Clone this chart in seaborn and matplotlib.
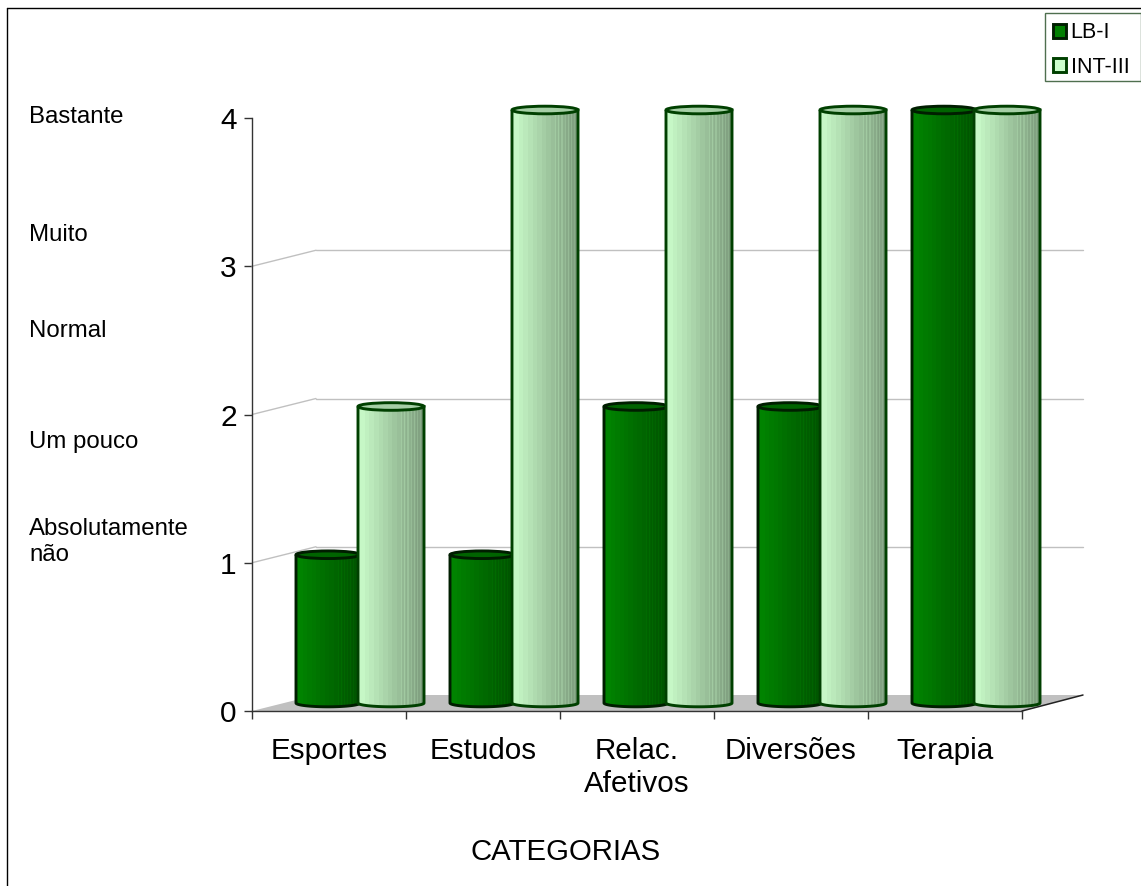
import numpy as np
import pandas as pd
import matplotlib
matplotlib.use("Agg")
import matplotlib.pyplot as plt
import seaborn as sns
from matplotlib import transforms
from matplotlib.lines import Line2D
from matplotlib.patches import Ellipse, Patch, PathPatch, Polygon, Rectangle
from matplotlib.path import Path

categories = ["Esportes", "Estudos", "Relac.\nAfetivos", "Diversões", "Terapia"]
lb_values = [1, 1, 2, 2, 4]
int_values = [2, 4, 4, 4, 4]
series_names = ["LB-I", "INT-III"]
y_ticks = [0, 1, 2, 3, 4]
scale_labels = ["Bastante", "Muito", "Normal", "Um pouco", "Absolutamente\nnão"]
scale_label_rows = [116, 234, 330, 441, 541]

W, H = 1141, 886
DPI = 100

sns.set_theme(style="white")
plt.rcParams["font.family"] = ["Liberation Sans", "DejaVu Sans"]
plt.rcParams["text.color"] = "black"

df = pd.DataFrame({
    "categoria": categories * 2,
    "serie": [series_names[0]] * 5 + [series_names[1]] * 5,
    "valor": lb_values + int_values,
})

fig = plt.figure(figsize=(W / DPI, H / DPI), dpi=DPI, facecolor="white")
ax = fig.add_axes([252 / W, 1 - 711 / H, 770 / W, 593 / H])

palette = {"LB-I": "#008000", "INT-III": "#CCFFCC"}
sns.barplot(data=df, x="categoria", y="valor", hue="serie", hue_order=series_names,
            palette=palette, order=categories, width=128 / 154, gap=0,
            legend=False, ax=ax, saturation=1)
bars = list(ax.patches)

ax.set_xlim(-0.5, 4.5)
ax.set_ylim(0, 4)
px_x = 154.0
px_y = 593 / 4

# Oblique depth of the back wall and of the bars standing on the floor
depth_x, depth_y = 61 / px_x, 16 / px_y
left_depth_x = 64 / px_x
bar_shift = transforms.offset_copy(ax.transData, fig, x=31, y=8, units="dots")

# Floor and wall grid
floor = Polygon([(-0.5, 0), (-0.5 + left_depth_x, depth_y), (4.5 + depth_x, depth_y), (4.5, 0)],
                closed=True, fc="#C0C0C0", ec="none", zorder=1, clip_on=False)
ax.add_patch(floor)
ax.plot([4.5, 4.5 + depth_x], [0, depth_y], color="#222222", lw=1.1, zorder=1.5, clip_on=False)
for v in y_ticks[1:4]:
    ax.plot([-0.5, -0.5 + left_depth_x], [v, v + depth_y], color="#C0C0C0", lw=1, zorder=1, clip_on=False)
    ax.plot([-0.5 + left_depth_x, 4.5 + depth_x], [v + depth_y, v + depth_y], color="#C0C0C0", lw=1, zorder=1, clip_on=False)


def shading(n=64):
    # Stepped cylinder shading: broad bands at the left, fine ribs at the right
    u = (np.arange(n) + 0.5) / n
    tone = 1.0 - 0.40 * u
    tone = np.round(tone * 36) / 36
    ribs = (u > 0.62) & (np.arange(n) % 3 == 0)
    return np.where(ribs, np.minimum(tone + 0.07, 1), tone)


RY = 3.8 / px_y


def cylinder(rect, base_rgb, edge, cap_face, order, extend_left=0.0):
    # The bar's own position and height set the cylinder; the rectangle itself stays hidden
    x0, w, top = rect.get_x() - extend_left, rect.get_width() + extend_left, rect.get_height()
    rx = w / 2
    theta = np.linspace(np.pi, 2 * np.pi, 41)
    arc_x = x0 + rx + rx * np.cos(theta)
    arc_y = RY * np.sin(theta)
    verts = np.vstack([[(x0, top)], np.column_stack([arc_x, arc_y]), [(x0 + w, top)], [(x0, top)]])
    body = Path(verts, closed=False)
    rect.set_visible(False)

    tone = shading()[None, :, None]
    img = np.clip(tone * np.array(base_rgb)[None, None, :], 0, 1)
    outline = PathPatch(body, fc="none", ec="none", transform=bar_shift, zorder=order, clip_on=False)
    ax.add_patch(outline)
    im = ax.imshow(img, extent=(x0, x0 + w, -2 * RY, top), transform=bar_shift, aspect="auto",
                   interpolation="nearest", zorder=order, origin="lower")
    im.set_clip_box(fig.bbox)
    im.set_clip_path(outline)
    ax.add_patch(PathPatch(body, fc="none", ec=edge, lw=2.1, transform=bar_shift,
                           zorder=order + 0.1, clip_on=False))
    ax.add_patch(Ellipse((x0 + rx, top), w, 2 * RY, fc=cap_face, ec=edge, lw=2.1,
                         transform=bar_shift, zorder=order + 0.2, clip_on=False))


dark_rgb = (0.0, 0.53, 0.0)
light_rgb = (0.80, 1.0, 0.80)
for i in range(5):
    cylinder(bars[i], dark_rgb, "#001E00", "#006400", 3 + 2 * i)
    cylinder(bars[i + 5], light_rgb, "#004000", "#A6CFA6", 4 + 2 * i, extend_left=2 / px_x)

ax.set_xlim(-0.5, 4.5)
ax.set_ylim(0, 4)

# Axes: ticks fall between the categories, labels at the centres
ax.set_yticks(y_ticks)
ax.set_xticks(np.arange(-0.5, 5, 1))
ax.set_xticklabels([])
ax.set_xticks(range(5), categories, minor=True)
ax.tick_params(axis="x", which="major", length=6, width=1, color="#333333", bottom=True, direction="out")
ax.tick_params(axis="x", which="minor", length=0, pad=19, labelsize=21.3, labelcolor="black")
ax.tick_params(axis="y", length=6, width=1, color="#333333", left=True, direction="out",
               pad=5, labelsize=21.5, labelcolor="black")
for side in ("top", "right"):
    ax.spines[side].set_visible(False)
for side in ("left", "bottom"):
    ax.spines[side].set_visible(True)
    ax.spines[side].set_color("#333333")
    ax.spines[side].set_linewidth(1)
    ax.spines[side].set_zorder(2)
ax.set_ylabel("")
ax.set_xlabel("CATEGORIAS", fontsize=21.2, color="black", va="center")
ax.xaxis.set_label_coords((566 - 252) / 770, (711 - 852) / 593)

# Verbal scale beside the numeric axis
for label, row in zip(scale_labels, scale_label_rows):
    fig.text(29 / W, 1 - (row + 1) / H, label, fontsize=17.3, color="black", ha="left", va="center",
             linespacing=1.2)

# Frame of the chart area
fig.add_artist(Line2D([7 / W, 7 / W], [0, 1 - 8 / H], color="black", lw=1))
fig.add_artist(Line2D([7 / W, 1], [1 - 8 / H, 1 - 8 / H], color="black", lw=1))

# Legend box with the two swatches
fig.add_artist(Rectangle((1045 / W, 1 - 81 / H), 95.5 / W, 68 / H, transform=fig.transFigure,
                         fc="white", ec="#4F6F4F", lw=1))
handles = [Patch(fc="#008000", ec="#001E00", lw=2.1, label=series_names[0]),
           Patch(fc="#CCFFCC", ec="#004000", lw=2.1, label=series_names[1])]
leg = fig.legend(handles=handles, loc="upper left", bbox_to_anchor=(1045.5 / W, 1 - 15 / H),
                 borderaxespad=0, fontsize=15.5, frameon=False,
                 handlelength=0.62, handleheight=0.62, handletextpad=0.22,
                 borderpad=0.33, labelspacing=0.63, labelcolor="black")

fig.savefig("out.png", dpi=DPI, facecolor="white")
